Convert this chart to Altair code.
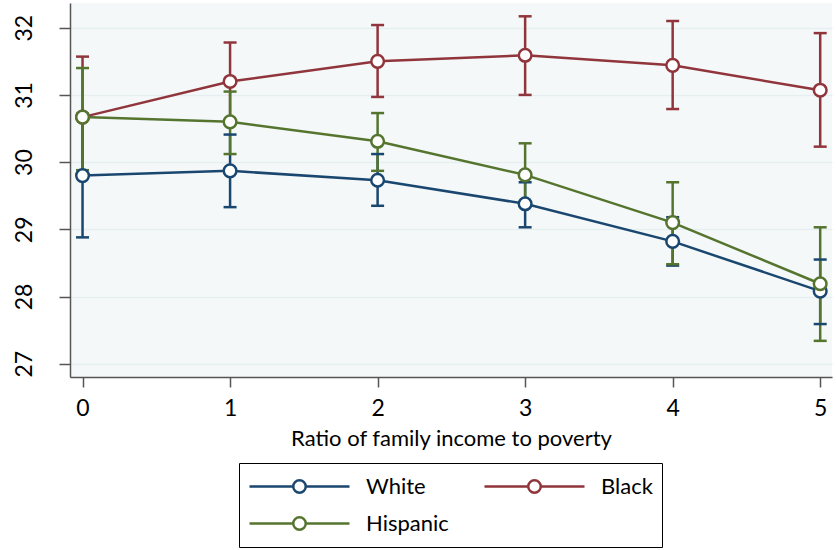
import altair as alt
import pandas as pd

# Ratio of family income to poverty (x) and predicted values by group
ratio = [0, 1, 2, 3, 4, 5]
groups = ["White", "Black", "Hispanic"]

white_mean = [29.80, 29.87, 29.73, 29.38, 28.82, 28.08]
white_lo = [28.88, 29.33, 29.35, 29.03, 28.46, 27.59]
white_hi = [30.72, 30.41, 30.12, 29.70, 29.18, 28.55]

black_mean = [30.67, 31.20, 31.50, 31.59, 31.44, 31.07]
black_lo = [29.76, 30.62, 30.97, 31.00, 30.79, 30.23]
black_hi = [31.57, 31.78, 32.04, 32.17, 32.10, 31.92]

hisp_mean = [30.67, 30.60, 30.31, 29.81, 29.10, 28.19]
hisp_lo = [29.88, 30.12, 29.87, 29.35, 28.48, 27.34]
hisp_hi = [31.40, 31.05, 30.73, 30.28, 29.70, 29.03]

colors = ["#1a476f", "#90353b", "#55752f"]

series = {
    "White": (white_mean, white_lo, white_hi),
    "Black": (black_mean, black_lo, black_hi),
    "Hispanic": (hisp_mean, hisp_lo, hisp_hi),
}
rows = []
for g in groups:
    m, lo, hi = series[g]
    for i, x in enumerate(ratio):
        rows.append({"ratio": x, "group": g, "mean": m[i], "lo": lo[i], "hi": hi[i]})
df = pd.DataFrame(rows)

FONT = "Lato"

# legend symbol: a short line with an open circle in the middle
sym = "M-1,0L-0.125,0A0.125,0.125,0,1,1,0.125,0L1,0M0.125,0A0.125,0.125,0,1,1,-0.125,0"

legend = alt.Legend(
    title=None,
    orient="none",
    legendX=169,
    legendY=460,
    direction="horizontal",
    columns=2,
    columnPadding=34,
    rowPadding=8,
    padding=9,
    clipHeight=29,
    symbolType=sym,
    symbolSize=10000,
    symbolStrokeWidth=2.5,
    symbolFillColor="white",
    symbolOpacity=1,
    labelFont=FONT,
    labelFontSize=22,
    labelColor="#000000",
    labelOffset=15,
    strokeColor="#000000",
    fillColor="white",
)

x_enc = alt.X(
    "ratio:Q",
    title="Ratio of family income to poverty",
    scale=alt.Scale(domain=[-0.085, 5.08], nice=False, zero=False),
    axis=alt.Axis(values=ratio, format="d", grid=False),
)
y_scale = alt.Scale(domain=[26.802, 32.368], nice=False, zero=False)
y_axis = alt.Axis(values=[27, 28, 29, 30, 31, 32], format="d", title=None)

color_scale = alt.Scale(domain=groups, range=colors)
col = alt.Color("group:N", scale=color_scale, legend=legend)

base = alt.Chart(df)

whisker = base.mark_rule(strokeWidth=2.5).encode(
    x=x_enc,
    y=alt.Y("lo:Q", scale=y_scale, axis=y_axis),
    y2="hi:Q",
    color=col,
)
# horizontal caps at both ends of each interval
cap_lo = base.mark_rule(strokeWidth=2.5, xOffset=-6.5, x2Offset=6.5).encode(
    x="ratio:Q", x2="ratio:Q", y="lo:Q", color=col
)
cap_hi = base.mark_rule(strokeWidth=2.5, xOffset=-6.5, x2Offset=6.5).encode(
    x="ratio:Q", x2="ratio:Q", y="hi:Q", color=col
)
lines = base.mark_line(strokeWidth=2.5).encode(
    x="ratio:Q", y="mean:Q", color=col
)
points = base.mark_point(
    shape="circle", filled=False, fill="white", fillOpacity=1, size=160,
    strokeWidth=2.5, opacity=1,
).encode(x="ratio:Q", y="mean:Q", color=col)

chart = (
    alt.layer(whisker, cap_lo, cap_hi, lines, points)
    .properties(
        width=762,
        height=374,
        autosize=alt.AutoSizeParams(type="none"),
        padding={"left": 70, "top": 3, "right": 4, "bottom": 173},
    )
    .configure_view(fill="#f5f8f9", stroke=None)
    .configure_axis(
        labelFont=FONT,
        labelFontSize=23,
        labelColor="#000000",
        titleFont=FONT,
        titleFontSize=22,
        titleColor="#000000",
        titleFontWeight="normal",
        domainColor="#555555",
        domainWidth=1.5,
        tickColor="#555555",
        tickWidth=1.5,
        tickSize=10,
        gridColor="#e6eef1",
        gridWidth=1.5,
    )
    .configure_axisY(
        grid=True,
        labelAngle=270,
        labelAlign="center",
        labelBaseline="alphabetic",
        labelPadding=28,
        tickSize=11,
    )
    .configure_axisX(labelPadding=10, titlePadding=8)
)

chart.save("out.html", embed_options={"renderer": "svg", "actions": False})
